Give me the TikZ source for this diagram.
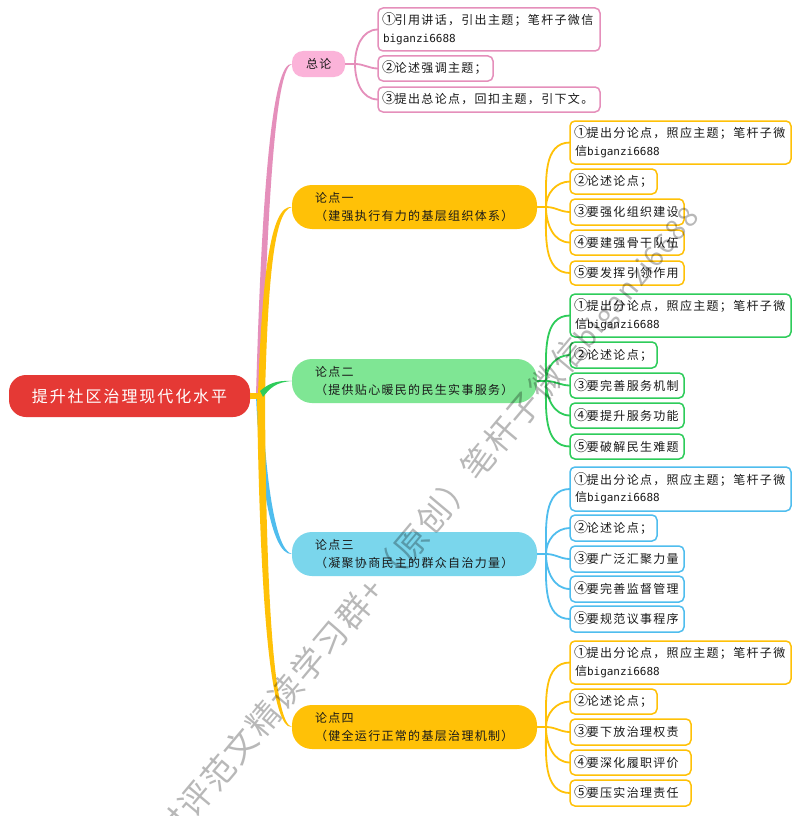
\documentclass[tikz,border=0pt]{standalone}
\usepackage{fontspec}
\usetikzlibrary{calc}
\setmainfont{Noto Sans CJK SC}[LetterSpace=11]
\newfontfamily\rootfont{Noto Sans CJK SC}[LetterSpace=12]
\newfontfamily\wmfont{Noto Sans CJK SC}[LetterSpace=6]
\newfontfamily\latfont{DejaVu Sans Mono}
\definecolor{cred}{HTML}{E53935}
\definecolor{cpink}{HTML}{FBB3D9}
\definecolor{cpinkl}{HTML}{E58FBB}
\definecolor{cyel}{HTML}{FFC107}
\definecolor{cgrnf}{HTML}{7FE694}
\definecolor{cgrn}{HTML}{2ECC5A}
\definecolor{cbluf}{HTML}{7AD6EC}
\definecolor{cblu}{HTML}{4FBDEE}
\tikzset{
  kidbox/.style={rectangle,rounded corners=5pt,line width=1.5pt,fill=white,inner xsep=5pt,inner ysep=0pt,outer sep=0pt,align=left,font=\fontsize{12}{17.5}\selectfont,text=black!90},
  branchbox/.style={rectangle,rounded corners=20pt,inner xsep=5pt,inner ysep=0pt,outer sep=0pt,align=left,font=\fontsize{12}{17.5}\selectfont,text=black!90},
  link/.style={line width=1.8pt},
}
\newcommand\bx[7]{%
  \pgfmathsetmacro\cx{(#2+#4)/2}\pgfmathsetmacro\cy{(#3+#5)/2}%
  \pgfmathsetmacro\ww{#4-#2}\pgfmathsetmacro\hh{#5-#3}%
  \node[#7,minimum width=\ww pt,minimum height=\hh pt,text width={(\ww-10)*1pt}] (#1) at (\cx,\cy) {#6};}
\newcommand\lat{\fontsize{11}{17.5}\latfont biganzi6688}
\newcommand\ci[1]{\smash{\fontsize{14}{17.5}\selectfont\kern-.8pt #1\kern-1.4pt}}
% tapered trunk: colour, left dx, right dx, c1x, c1y, c2x, c2y, node, sign
\newcommand\taper[9]{%
  \fill[#1] ($(hub)+(#2,0)$) .. controls ($(#4,#5)+(-3,0)$) and ($(#6,#7)+(-2,#9*3)$) .. (#8.west)
     .. controls ($(#6,#7)+(2,-#9*3)$) and ($(#4,#5)+(3,0)$) .. ($(hub)+(#3,0)$) -- cycle;}
\newcommand\lnk[5]{% colour, hub name, branch, child, angle
  \draw[link,#1] (#2) to[out=#5,in=180] (#4.west);}
\newcommand\stem[3]{\draw[link,#1] (#2.east) -- (#3);}
\begin{document}
\begin{tikzpicture}[x=1pt,y=-1pt]
\useasboundingbox (0,0) rectangle (800,816);
\fill[white] (0,0) rectangle (800,816);
\coordinate (hub) at (258,395);
% root and branches
\node[rectangle,rounded corners=17pt,fill=cred,text=white,minimum width=241pt,minimum height=42pt,inner sep=0pt,outer sep=0pt,font=\fontsize{16}{18}\rootfont] (root) at (129.5,396) {\raisebox{1pt}{提升社区治理现代化水平}};
\bx{zl}{292}{51}{345}{77}{\hspace{9pt}总论}{branchbox,fill=cpink,rounded corners=11pt}
\bx{b1}{292}{185}{537}{229}{\hspace{18pt}论点一\\\hspace{18pt}（建强执行有力的基层组织体系）}{branchbox,fill=cyel}
\bx{b2}{292}{359}{537}{403}{\hspace{18pt}论点二\\\hspace{18pt}（提供贴心暖民的民生实事服务）}{branchbox,fill=cgrnf}
\bx{b3}{292}{532}{537}{576}{\hspace{18pt}论点三\\\hspace{18pt}（凝聚协商民主的群众自治力量）}{branchbox,fill=cbluf}
\bx{b4}{292}{705}{537}{749}{\hspace{18pt}论点四\\\hspace{18pt}（健全运行正常的基层治理机制）}{branchbox,fill=cyel}
% trunks
\taper{cpinkl}{-2}{4}{265}{180}{275}{64}{zl}{-1}
\taper{cblu}{-2}{4}{262}{470}{272}{553}{b3}{1}
\taper{cyel}{0}{7}{265}{280}{272}{207}{b1}{-1}
\taper{cyel}{-1}{7}{263}{600}{272}{727}{b4}{1}
\draw[line width=6pt,cyel] (root.east) -- ++(12,0);
\fill[cgrn] (260,391) .. controls (268,384) and (276,380) .. (b2.west) .. controls (276,382) and (270,388) .. (263,397) -- cycle;
% children
\bx{z1}{378}{8}{600}{51}{\ci{①}引用讲话，引出主题；笔杆子微信\\{\lat}}{kidbox,draw=cpinkl}
\bx{z2}{378}{56}{493}{81}{\ci{②}论述强调主题；}{kidbox,draw=cpinkl}
\bx{z3}{378}{87}{600}{112}{\ci{③}提出总论点，回扣主题，引下文。}{kidbox,draw=cpinkl}
\bx{a1}{570}{121}{791}{164}{\ci{①}提出分论点，照应主题；笔杆子微\\信{\lat}}{kidbox,draw=cyel}
\bx{a2}{570}{169}{657}{194}{\ci{②}论述论点；}{kidbox,draw=cyel}
\bx{a3}{570}{199}{684}{225}{\ci{③}要强化组织建设}{kidbox,draw=cyel}
\bx{a4}{570}{230}{684}{255}{\ci{④}要建强骨干队伍}{kidbox,draw=cyel}
\bx{a5}{570}{261}{684}{285}{\ci{⑤}要发挥引领作用}{kidbox,draw=cyel}
\bx{c1}{570}{294}{791}{337}{\ci{①}提出分论点，照应主题；笔杆子微\\信{\lat}}{kidbox,draw=cgrn}
\bx{c2}{570}{342}{657}{368}{\ci{②}论述论点；}{kidbox,draw=cgrn}
\bx{c3}{570}{373}{684}{398}{\ci{③}要完善服务机制}{kidbox,draw=cgrn}
\bx{c4}{570}{403}{684}{428}{\ci{④}要提升服务功能}{kidbox,draw=cgrn}
\bx{c5}{570}{434}{684}{459}{\ci{⑤}要破解民生难题}{kidbox,draw=cgrn}
\bx{d1}{570}{467}{791}{511}{\ci{①}提出分论点，照应主题；笔杆子微\\信{\lat}}{kidbox,draw=cblu}
\bx{d2}{570}{515}{657}{541}{\ci{②}论述论点；}{kidbox,draw=cblu}
\bx{d3}{570}{546}{684}{572}{\ci{③}要广泛汇聚力量}{kidbox,draw=cblu}
\bx{d4}{570}{576}{684}{602}{\ci{④}要完善监督管理}{kidbox,draw=cblu}
\bx{d5}{570}{606}{684}{632}{\ci{⑤}要规范议事程序}{kidbox,draw=cblu}
\bx{e1}{570}{641}{791}{684}{\ci{①}提出分论点，照应主题；笔杆子微\\信{\lat}}{kidbox,draw=cyel}
\bx{e2}{570}{689}{657}{714}{\ci{②}论述论点；}{kidbox,draw=cyel}
\bx{e3}{570}{719}{691}{745}{\ci{③}要下放治理权责}{kidbox,draw=cyel}
\bx{e4}{570}{750}{691}{775}{\ci{④}要深化履职评价}{kidbox,draw=cyel}
\bx{e5}{570}{780}{691}{806}{\ci{⑤}要压实治理责任}{kidbox,draw=cyel}
% child connectors
\coordinate (hz) at (355,64);
\coordinate (ha) at (546,207);
\coordinate (hc) at (546,381);
\coordinate (hd) at (546,554);
\coordinate (he) at (546,727);
\stem{cpinkl}{zl}{hz}
\lnk{cpinkl}{hz}{zl}{z1}{90}\lnk{cpinkl}{hz}{zl}{z2}{0}\lnk{cpinkl}{hz}{zl}{z3}{-90}
\stem{cyel}{b1}{ha}
\lnk{cyel}{ha}{b1}{a1}{90}\lnk{cyel}{ha}{b1}{a2}{90}\lnk{cyel}{ha}{b1}{a3}{0}\lnk{cyel}{ha}{b1}{a4}{-90}\lnk{cyel}{ha}{b1}{a5}{-90}
\stem{cgrn}{b2}{hc}
\lnk{cgrn}{hc}{b2}{c1}{90}\lnk{cgrn}{hc}{b2}{c2}{90}\lnk{cgrn}{hc}{b2}{c3}{0}\lnk{cgrn}{hc}{b2}{c4}{-90}\lnk{cgrn}{hc}{b2}{c5}{-90}
\stem{cblu}{b3}{hd}
\lnk{cblu}{hd}{b3}{d1}{90}\lnk{cblu}{hd}{b3}{d2}{90}\lnk{cblu}{hd}{b3}{d3}{0}\lnk{cblu}{hd}{b3}{d4}{-90}\lnk{cblu}{hd}{b3}{d5}{-90}
\stem{cyel}{b4}{he}
\lnk{cyel}{he}{b4}{e1}{90}\lnk{cyel}{he}{b4}{e2}{90}\lnk{cyel}{he}{b4}{e3}{0}\lnk{cyel}{he}{b4}{e4}{-90}\lnk{cyel}{he}{b4}{e5}{-90}
% watermark
\node[anchor=west,rotate=50,inner sep=0pt,text=black,text opacity=.28,font=\fontsize{33}{35}\wmfont] (wm) at (164,840) {时评范文精读学习群+（原创）笔杆子微信{\fontsize{28}{35}\selectfont biganzi6688}};
\end{tikzpicture}
\end{document}
